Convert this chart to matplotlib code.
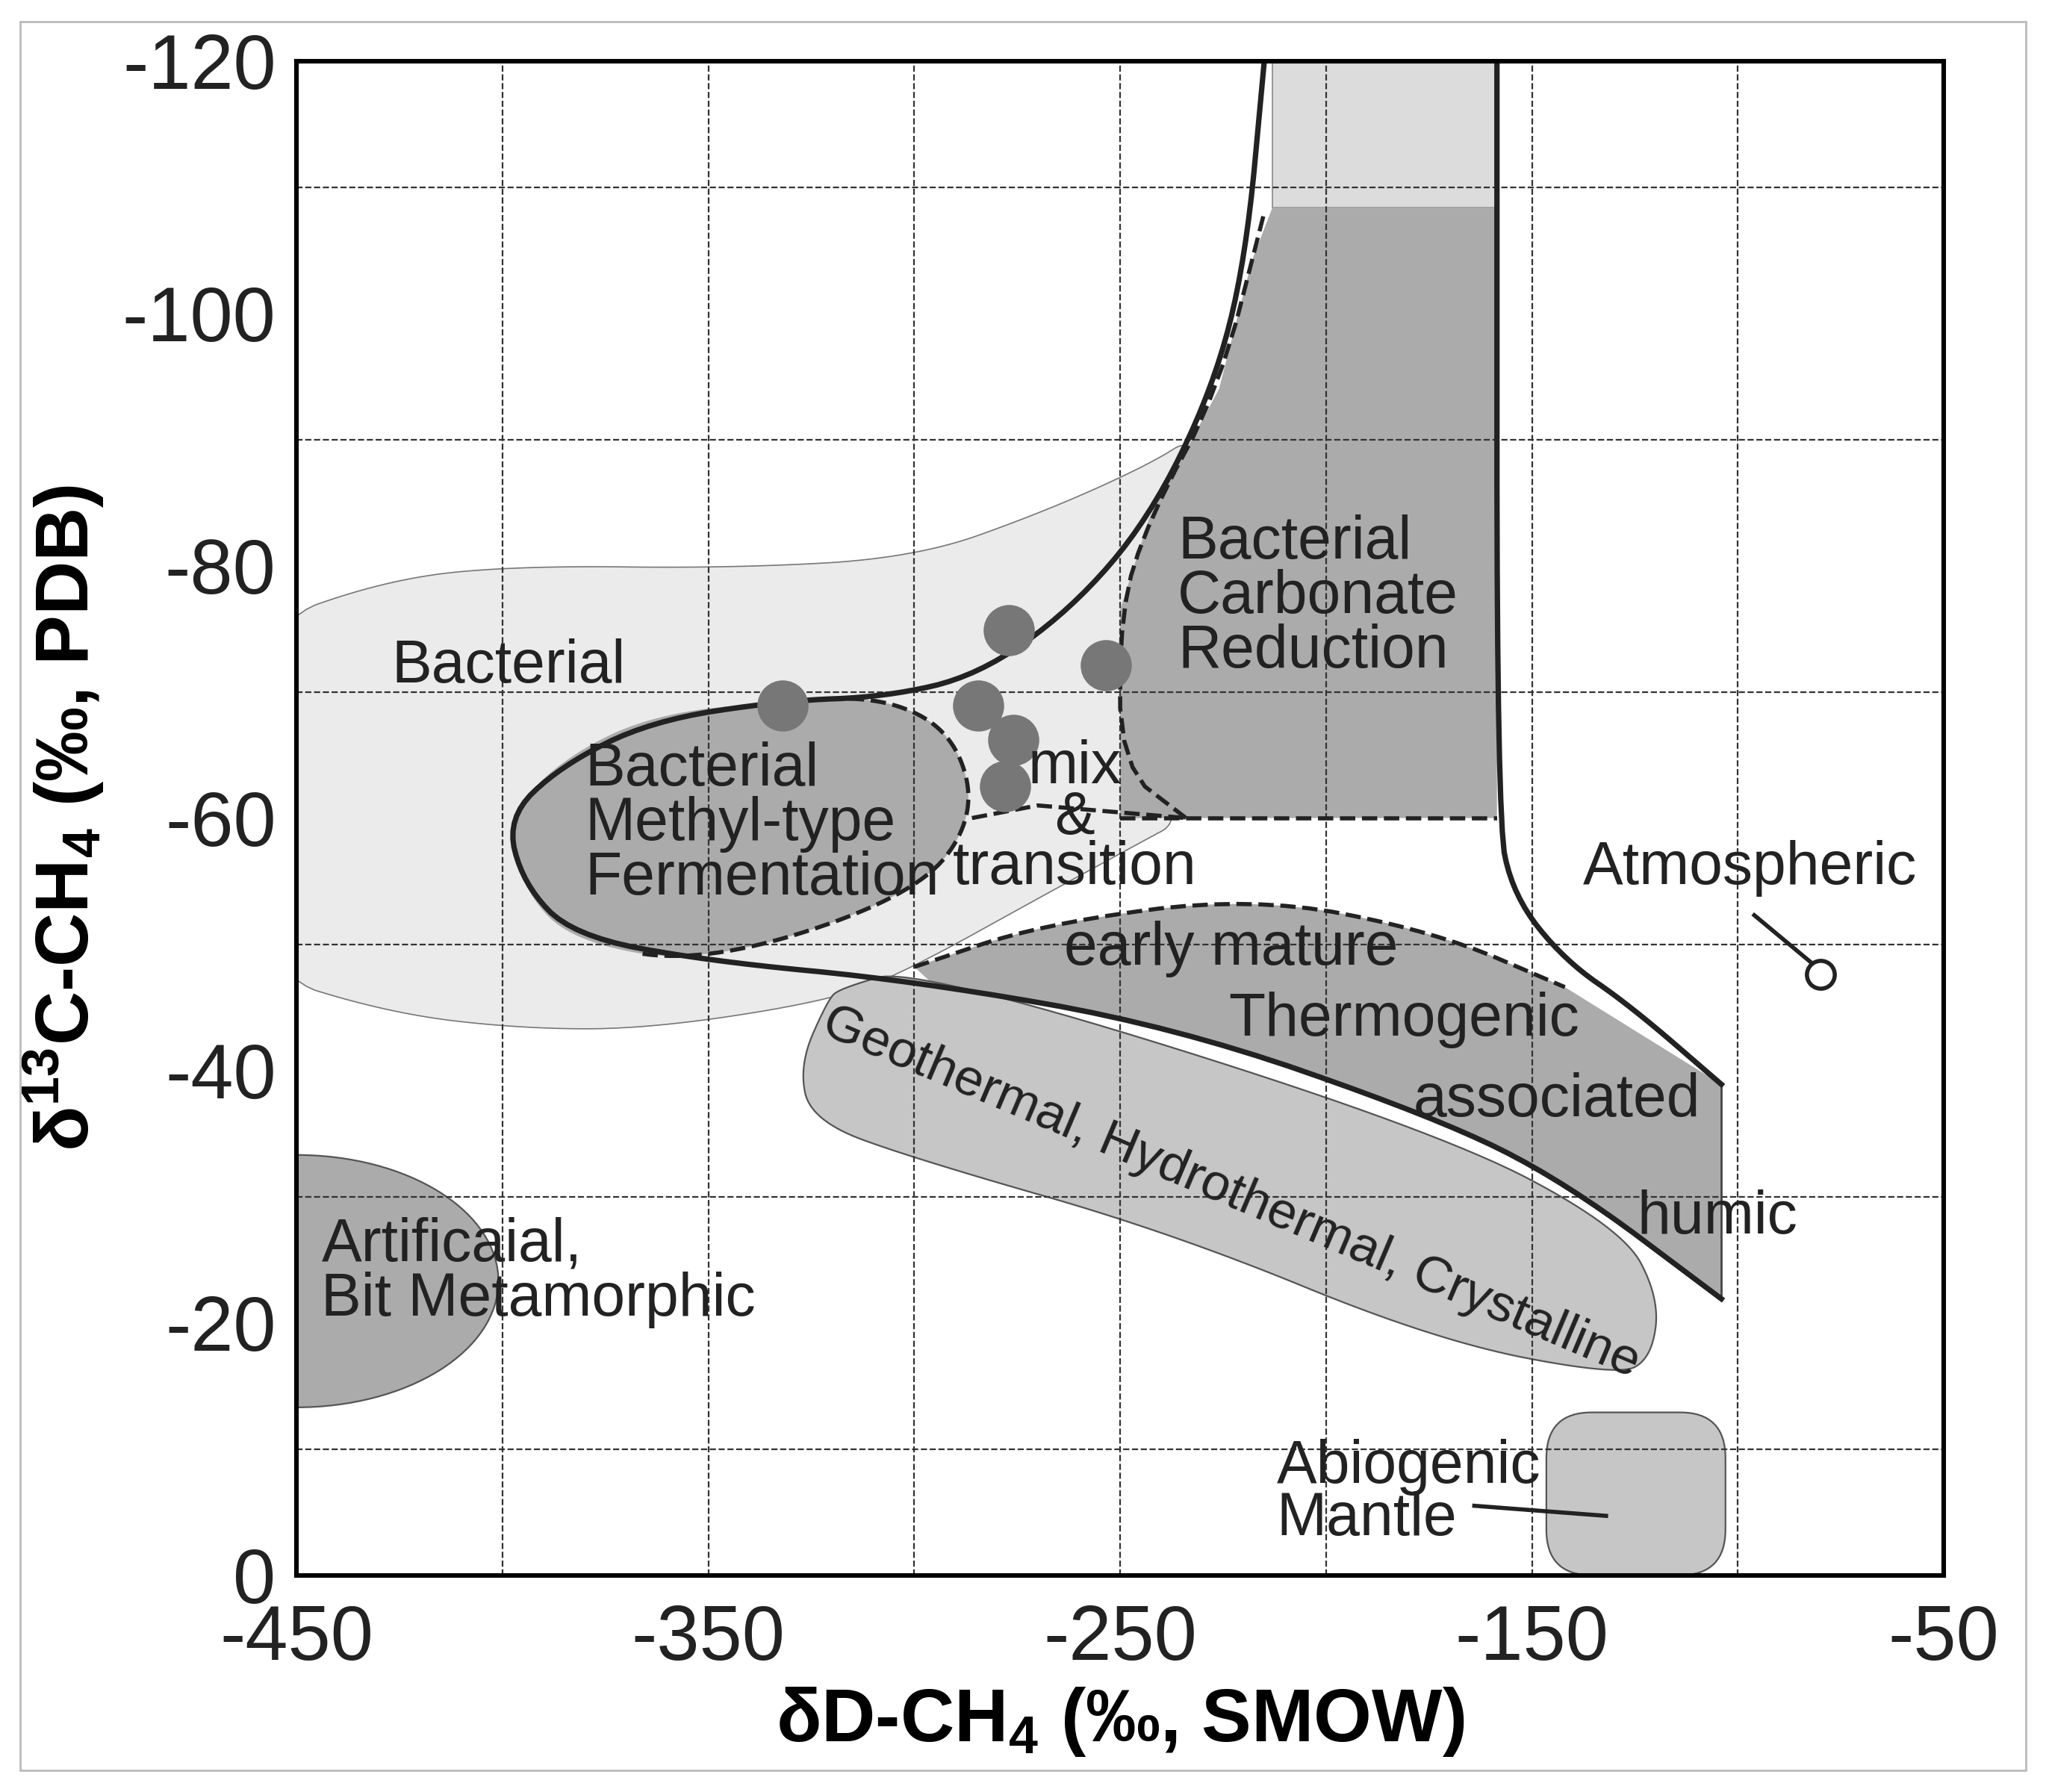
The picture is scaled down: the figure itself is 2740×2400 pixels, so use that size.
import numpy as np
import matplotlib
matplotlib.use('Agg')
import matplotlib.pyplot as plt
from matplotlib.patches import Polygon, FancyBboxPatch, Rectangle, Ellipse

plt.rcParams['font.family'] = 'Liberation Sans'
plt.rcParams['axes.unicode_minus'] = False
plt.rcParams['mathtext.fontset'] = 'custom'
plt.rcParams['mathtext.rm'] = 'Liberation Sans'
plt.rcParams['mathtext.bf'] = 'Liberation Sans:bold'

# outlines (dD, d13C)
bacterial_x = [-462, -427, -395, -345, -300, -269, -243, -231, -237, -250, -250, -234, -246, -269, -300, -319, -364, -395, -427, -462]
bacterial_y = [-75, -79, -80, -79.8, -80.6, -84.2, -88, -90.5, -81.6, -77.5, -67.2, -60, -57.9, -53.8, -48.2, -45.6, -43.3, -43.3, -44.5, -48]

methyl_x = [-332, -364, -386, -399, -395, -383, -351, -300, -285, -290, -307, -332]
methyl_y = [-69.3, -68.2, -64.6, -60, -54.3, -50.2, -48.4, -53.8, -60, -66.6, -69.6, -69.3]

carbonate_x = [-213, -158.5, -158.5, -250, -250, -243, -226, -218, -213]
carbonate_y = [-108.4, -108.4, -60, -60, -76.5, -83.7, -94, -104.2, -108.4]

thermo_top_x = [-300, -269, -218, -173.5, -142]
thermo_top_y = [-48.2, -51.6, -53.8, -51, -46.6]

geo_x = [-318, -300, -173.5, -128, -119, -121, -129, -173.5, -237, -300, -325, -328, -321]
geo_y = [-46.5, -48.2, -35.3, -27.5, -21.9, -17.2, -15.8, -18.6, -27.1, -33, -36, -40.4, -45.6]

main_x = [-215, -219.5, -227.5, -243, -262, -284.5, -307, -332, -364, -386, -399, -395, -383, -351, -300, -237, -173.5, -142, -104]
main_y = [-120, -104.2, -94, -83.7, -76.5, -71.3, -69.6, -69.3, -67.7, -64.1, -60, -54.8, -50.7, -48.7, -47.1, -43.5, -36.3, -31.2, -21.9]
right_x = [-158.5, -158.5, -154.5, -142, -126, -104]
right_y = [-120, -60, -53.8, -48.7, -45.1, -38.9]

samples_x = [-332, -277, -253.5, -284.5, -276, -278]
samples_y = [-68.9, -74.9, -72.1, -68.9, -66.2, -62.5]


def smooth(x, y, closed=True, n=4):
    p = np.column_stack([x, y]).astype(float)
    for _ in range(n):
        q = np.roll(p, -1, axis=0) if closed else p[1:]
        a = p if closed else p[:-1]
        new = np.empty((2 * len(a), 2))
        new[0::2] = 0.75 * a + 0.25 * q
        new[1::2] = 0.25 * a + 0.75 * q
        if not closed:
            new = np.vstack([p[0], new, p[-1]])
        p = new
    return p


fig = plt.figure(figsize=(13.7, 12), dpi=200)
fig.patches.append(Rectangle((0.01, 0.012), 0.98, 0.976, transform=fig.transFigure,
                             fill=False, ec='#bbbbbb', lw=1))
ax = fig.add_axes([0.145, 0.121, 0.805, 0.845])
ax.set_xlim(-450, -50)
ax.set_ylim(0, -120)

LIGHT, MID, DARK = '#ebebeb', '#c6c6c6', '#ababab'
DASH = dict(ls='--', color='#222222', lw=2, zorder=3)

def blob(x, y, fc, ec='#555555', lw=0.8, z=1):
    ax.add_patch(Polygon(smooth(x, y), closed=True, fc=fc, ec=ec, lw=lw, zorder=z))

main_c = smooth(main_x, main_y, closed=False, n=3)

blob(bacterial_x, bacterial_y, LIGHT, ec='#777777', lw=0.6)
ax.add_patch(Rectangle((-213, -120), 54.5, 11.6, fc='#dcdcdc', ec='#888888', lw=0.6, zorder=1))
ax.add_patch(Polygon(np.column_stack([carbonate_x, carbonate_y]), fc=DARK, ec='none', zorder=1.5))
ax.plot([-250, -158.5], [-60, -60], **DASH)
ax.plot(*smooth([-234, -250, -250, -243, -226, -215], [-60, -64, -76.5, -83.7, -94, -108], closed=False, n=2).T, **DASH)
ax.plot([-213, -158.5], [-120, -120], **DASH)

# thermogenic: dashed top, straight right edge, bottom along the lower branch of the main line
top = smooth(thermo_top_x, thermo_top_y, closed=False, n=3)
lower = main_c[np.argmin(main_c[:, 0]):]
low = lower[lower[:, 0] >= -300][::-1]
thermo = np.vstack([top, [[-104, -38.9], [-104, -21.9]], low])
ax.add_patch(Polygon(thermo, fc=DARK, ec='none', zorder=1.5))
ax.plot(*top.T, **DASH)
ax.plot([-104, -104], [-38.9, -21.9], color='#444444', lw=1, zorder=3)

blob(geo_x, geo_y, MID, z=2)
blob(methyl_x, methyl_y, DARK, ec='none', z=2)
m = smooth(methyl_x, methyl_y, closed=False)
ax.plot(m[len(m)//2:, 0], m[len(m)//2:, 1], **DASH)
ax.plot([-286, -270, -234], [-60, -61, -60], **DASH)
ax.add_patch(Ellipse((-450, -23.3), 98, 20, fc=DARK, ec='#555555', lw=0.8, zorder=2))
ax.add_patch(FancyBboxPatch((-146.5, -12.9), 43.5, 12.9, boxstyle='round,pad=0,rounding_size=11',
                            mutation_aspect=0.33, fc=MID, ec='#555555', lw=0.8, zorder=2))

ax.plot(*main_c.T, color='#222222', lw=2.6, zorder=4)
ax.plot(*smooth(right_x, right_y, closed=False, n=3).T, color='#222222', lw=2.6, zorder=4)

ax.scatter(samples_x, samples_y, s=560, color='#777777', zorder=5)
ax.plot([-96, -82], [-52.3, -48.5], color='#222222', lw=2, zorder=5)
ax.scatter([-80], [-47.6], s=180, facecolor='white', edgecolor='#222222', lw=2, zorder=6)
ax.plot([-164, -132], [-5.5, -4.7], color='#222222', lw=2, zorder=5)

ax.set_xticks([-450, -350, -250, -150, -50])
ax.set_yticks([-120, -100, -80, -60, -40, -20, 0])
for gx in [-400, -350, -300, -250, -200, -150, -100]:
    ax.axvline(gx, color='#333333', ls='--', lw=0.8, zorder=2.5)
for gy in [-110, -90, -70, -50, -30, -10]:
    ax.axhline(gy, color='#333333', ls='--', lw=0.8, zorder=2.5)
ax.tick_params(labelsize=37, length=0, colors='#222222')
ax.tick_params(axis='x', pad=14)
ax.tick_params(axis='y', pad=10)
for s in ax.spines.values():
    s.set_linewidth(2.2)
    s.set_zorder(10)

ax.set_xlabel(r'δD-CH$_\mathbf{4}$ (‰, SMOW)', fontsize=36, fontweight='bold', labelpad=4)
ax.set_ylabel(r'δ$^\mathbf{13}$C-CH$_\mathbf{4}$ (‰, PDB)', fontsize=36, fontweight='bold', labelpad=8)

kw = dict(fontsize=29, color='#222222', zorder=8)
ax.text(-427, -72, 'Bacterial', va='center', **kw)
ax.text(-380, -59.5, 'Bacterial\nMethyl-type\nFermentation', va='center', linespacing=0.95, **kw)
ax.text(-236, -77.5, 'Bacterial\nCarbonate\nReduction', va='center', linespacing=0.95, **kw)
ax.text(-261, -60, 'mix\n&\ntransition', ha='center', va='center', linespacing=0.85, **kw)
ax.text(-223, -49.6, 'early mature', ha='center', va='center', **kw)
ax.text(-181, -44, 'Thermogenic', ha='center', va='center', **kw)
ax.text(-144, -37.6, 'associated', ha='center', va='center', **kw)
ax.text(-105, -28.3, 'humic', ha='center', va='center', **kw)
ax.text(-97, -56, 'Atmospheric', ha='center', va='center', **kw)
ax.text(-444, -24, 'Artificaial,\nBit Metamorphic', va='center', linespacing=0.95, **kw)
ax.text(-212, -6.5, 'Abiogenic\nMantle', va='center', linespacing=0.9, **kw)
ax.text(-223, -30.3, 'Geothermal, Hydrothermal, Crystalline', rotation=-23,
        ha='center', va='center', rotation_mode='anchor', fontsize=25, color='#222222', zorder=8)

fig.savefig('out.png', dpi=200)
